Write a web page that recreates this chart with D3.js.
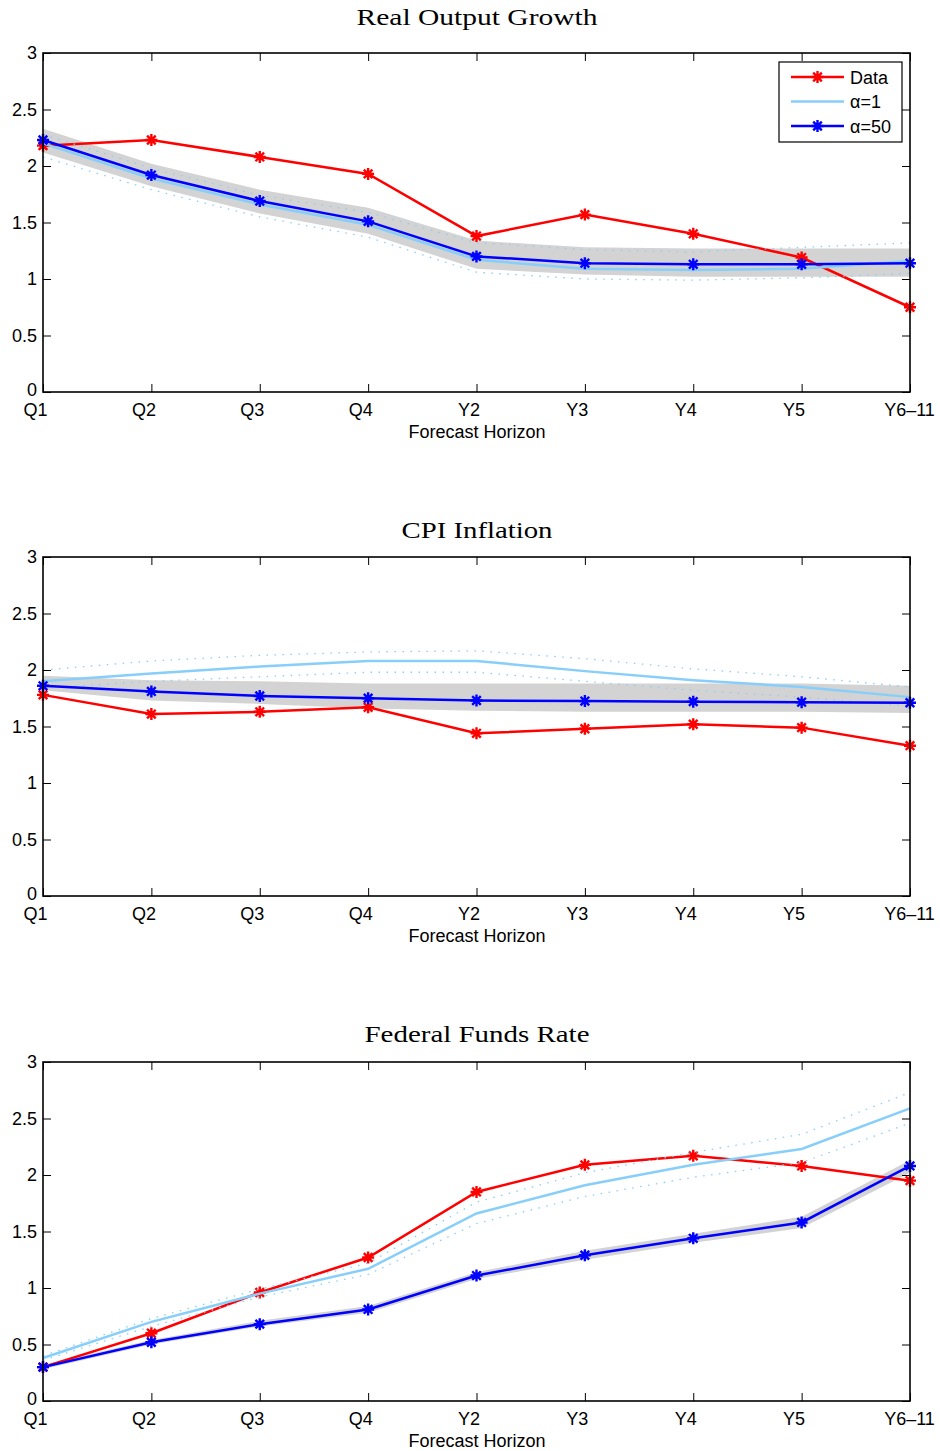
<!DOCTYPE html>
<html>
<head>
<meta charset="utf-8">
<script src="https://cdn.jsdelivr.net/npm/d3@7"></script>
<style>
  body { margin: 0; background: #fff; }
  svg { display: block; }
</style>
</head>
<body>
<div id="chart"></div>
<script>
// forecast horizons shared by all three panels
const horizons = ['Q1', 'Q2', 'Q3', 'Q4', 'Y2', 'Y3', 'Y4', 'Y5', 'Y6\u201311'];
const yTicks = [0, 0.5, 1, 1.5, 2, 2.5, 3];
const panelTitles = ['Real Output Growth', 'CPI Inflation', 'Federal Funds Rate'];

// Real output growth
const gdpData   = [2.18, 2.23, 2.08, 1.93, 1.38, 1.57, 1.40, 1.19, 0.75];
const gdpA1     = [2.20, 1.89, 1.66, 1.48, 1.17, 1.09, 1.08, 1.09, 1.16];
const gdpA50    = [2.23, 1.92, 1.69, 1.51, 1.20, 1.14, 1.13, 1.13, 1.14];
const gdpA1Lo   = [2.08, 1.79, 1.55, 1.37, 1.06, 1.00, 0.99, 1.01, 1.05];
const gdpA1Hi   = [2.28, 1.98, 1.74, 1.59, 1.32, 1.26, 1.24, 1.28, 1.32];
const gdpA50Lo  = [2.12, 1.82, 1.58, 1.40, 1.09, 1.04, 1.02, 1.02, 1.02];
const gdpA50Hi  = [2.33, 2.02, 1.79, 1.63, 1.34, 1.28, 1.27, 1.27, 1.27];

// CPI inflation
const cpiData   = [1.78, 1.61, 1.63, 1.67, 1.44, 1.48, 1.52, 1.49, 1.33];
const cpiA1     = [1.90, 1.97, 2.03, 2.08, 2.08, 1.99, 1.91, 1.85, 1.76];
const cpiA50    = [1.86, 1.81, 1.77, 1.75, 1.73, 1.725, 1.72, 1.715, 1.71];
const cpiA1Lo   = [1.84, 1.90, 1.94, 1.98, 1.98, 1.90, 1.82, 1.76, 1.68];
const cpiA1Hi   = [2.00, 2.08, 2.13, 2.16, 2.17, 2.10, 2.01, 1.94, 1.85];
const cpiA50Lo  = [1.82, 1.73, 1.70, 1.66, 1.64, 1.63, 1.63, 1.63, 1.62];
const cpiA50Hi  = [1.95, 1.91, 1.90, 1.88, 1.88, 1.88, 1.88, 1.88, 1.86];

// Federal funds rate
const ffrData   = [0.30, 0.60, 0.96, 1.27, 1.85, 2.09, 2.17, 2.08, 1.95];
const ffrA1     = [0.38, 0.70, 0.95, 1.17, 1.66, 1.91, 2.09, 2.23, 2.59];
const ffrA50    = [0.30, 0.52, 0.68, 0.81, 1.11, 1.29, 1.44, 1.58, 2.08];
const ffrA1Lo   = [0.36, 0.66, 0.92, 1.12, 1.57, 1.81, 1.98, 2.11, 2.46];
const ffrA1Hi   = [0.40, 0.73, 0.99, 1.22, 1.76, 2.02, 2.20, 2.36, 2.73];
const ffrA50Lo  = [0.28, 0.50, 0.66, 0.78, 1.08, 1.25, 1.40, 1.53, 2.02];
const ffrA50Hi  = [0.32, 0.54, 0.71, 0.84, 1.14, 1.33, 1.48, 1.63, 2.13];

const legendLabels = ['Data', '\u03b1=1', '\u03b1=50'];

const panels = [
  {data: gdpData, a1: gdpA1, a50: gdpA50, a1Lo: gdpA1Lo, a1Hi: gdpA1Hi, a50Lo: gdpA50Lo, a50Hi: gdpA50Hi},
  {data: cpiData, a1: cpiA1, a50: cpiA50, a1Lo: cpiA1Lo, a1Hi: cpiA1Hi, a50Lo: cpiA50Lo, a50Hi: cpiA50Hi},
  {data: ffrData, a1: ffrA1, a50: ffrA50, a1Lo: ffrA1Lo, a1Hi: ffrA1Hi, a50Lo: ffrA50Lo, a50Hi: ffrA50Hi}
];

const W = 940, H = 1451;
const left = 43, right = 910, plotH = 339;
const panelTops = [53, 557, 1062];
const titleBase = [25, 538, 1042];
const titleWidth = [241, 151, 225];

const RED = '#ff0000', BLUE = '#0000ff', LIGHT = '#87cefa', GREY = '#d3d3d3';
const sans = '"Liberation Sans", Arial, Helvetica, sans-serif';
const starPath = 'M-6,0L6,0M0,-6L0,6M-4.3,-4.3L4.3,4.3M-4.3,4.3L4.3,-4.3';

const svg = d3.select('#chart').append('svg')
  .attr('width', W).attr('height', H);

const x = d3.scalePoint().domain(horizons).range([left, right]);

panels.forEach((p, i) => {
  const top = panelTops[i];
  const y = d3.scaleLinear().domain([0, 3]).range([top + plotH, top]);
  const g = svg.append('g');
  const pts = arr => arr.map((v, k) => [horizons[k], v]);
  const line = d3.line().x(d => x(d[0])).y(d => y(d[1]));

  // alpha=50 band
  const area = d3.area()
    .x((d, k) => x(horizons[k]))
    .y0(d => y(d[0])).y1(d => y(d[1]));
  g.append('path')
    .datum(p.a50Lo.map((v, k) => [v, p.a50Hi[k]]))
    .attr('d', area)
    .attr('fill', GREY);

  // data
  g.append('path').datum(pts(p.data)).attr('d', line)
    .attr('fill', 'none').attr('stroke', RED).attr('stroke-width', 2.5);
  g.append('g').selectAll('path').data(pts(p.data)).join('path')
    .attr('d', starPath)
    .attr('transform', d => `translate(${x(d[0])},${y(d[1])})`)
    .attr('stroke', RED).attr('stroke-width', 2.4).attr('fill', 'none');

  // alpha=1 bands (dotted) and line
  [p.a1Lo, p.a1Hi].forEach(arr => {
    g.append('path').datum(pts(arr)).attr('d', line)
      .attr('fill', 'none').attr('stroke', LIGHT).attr('stroke-width', 1.3)
      .attr('stroke-dasharray', '1.5,6.5');
  });
  g.append('path').datum(pts(p.a1)).attr('d', line)
    .attr('fill', 'none').attr('stroke', LIGHT).attr('stroke-width', 2.5);

  // alpha=50
  g.append('path').datum(pts(p.a50)).attr('d', line)
    .attr('fill', 'none').attr('stroke', BLUE).attr('stroke-width', 2.5);
  g.append('g').selectAll('path').data(pts(p.a50)).join('path')
    .attr('d', starPath)
    .attr('transform', d => `translate(${x(d[0])},${y(d[1])})`)
    .attr('stroke', BLUE).attr('stroke-width', 2.4).attr('fill', 'none');

  // axes with inward ticks on all sides
  const bottom = g.append('g').attr('transform', `translate(0,${top + plotH})`)
    .call(d3.axisBottom(x).tickSize(-8).tickSizeOuter(0).tickPadding(11.5));
  bottom.selectAll('text')
    .attr('dx', d => d === horizons[horizons.length - 1] ? -1 : -8);
  g.append('g').attr('transform', `translate(0,${top})`)
    .call(d3.axisTop(x).tickSize(-8).tickSizeOuter(0).tickFormat(''));
  const leftAx = g.append('g').attr('transform', `translate(${left},0)`)
    .call(d3.axisLeft(y).tickValues(yTicks).tickSize(-8).tickSizeOuter(0).tickPadding(6)
      .tickFormat(d3.format('')));
  leftAx.selectAll('.tick').filter(d => d === 0).select('text').attr('y', -2.5);
  g.append('g').attr('transform', `translate(${right},0)`)
    .call(d3.axisRight(y).tickValues(yTicks).tickSize(-8).tickSizeOuter(0).tickFormat(''));
  g.selectAll('.domain').remove();
  g.selectAll('.tick line').attr('stroke', '#000').attr('stroke-width', 1);
  g.selectAll('.tick text')
    .attr('font-family', sans).attr('font-size', 18).attr('fill', '#000');

  g.append('rect')
    .attr('x', left).attr('y', top)
    .attr('width', right - left).attr('height', plotH)
    .attr('fill', 'none').attr('stroke', '#000').attr('stroke-width', 1.6);

  // title and x label
  svg.append('text')
    .attr('x', (left + right) / 2 + 0.5).attr('y', titleBase[i])
    .attr('text-anchor', 'middle')
    .attr('font-family', '"Liberation Serif", "Times New Roman", serif')
    .attr('font-size', 23.5)
    .attr('textLength', titleWidth[i]).attr('lengthAdjust', 'spacingAndGlyphs')
    .text(panelTitles[i]);
  svg.append('text')
    .attr('x', 477).attr('y', top + plotH + 45.5)
    .attr('text-anchor', 'middle')
    .attr('font-family', sans).attr('font-size', 18)
    .text('Forecast Horizon');
});

// legend (first panel only)
const lg = svg.append('g');
lg.append('rect').attr('x', 779).attr('y', 62).attr('width', 123).attr('height', 80)
  .attr('fill', '#fff').attr('stroke', '#000').attr('stroke-width', 1.2);
const legColors = [RED, LIGHT, BLUE];
legendLabels.forEach((lab, k) => {
  const ly = 77 + k * 24.5;
  lg.append('line').attr('x1', 791).attr('x2', 844).attr('y1', ly).attr('y2', ly)
    .attr('stroke', legColors[k]).attr('stroke-width', 2.5);
  if (k !== 1) {
    lg.append('path').attr('d', starPath)
      .attr('transform', `translate(817.5,${ly})`)
      .attr('stroke', legColors[k]).attr('stroke-width', 2.4).attr('fill', 'none');
  }
  lg.append('text').attr('x', 850).attr('y', ly + 6.5)
    .attr('font-family', sans).attr('font-size', 18)
    .text(lab);
});
</script>
</body>
</html>
